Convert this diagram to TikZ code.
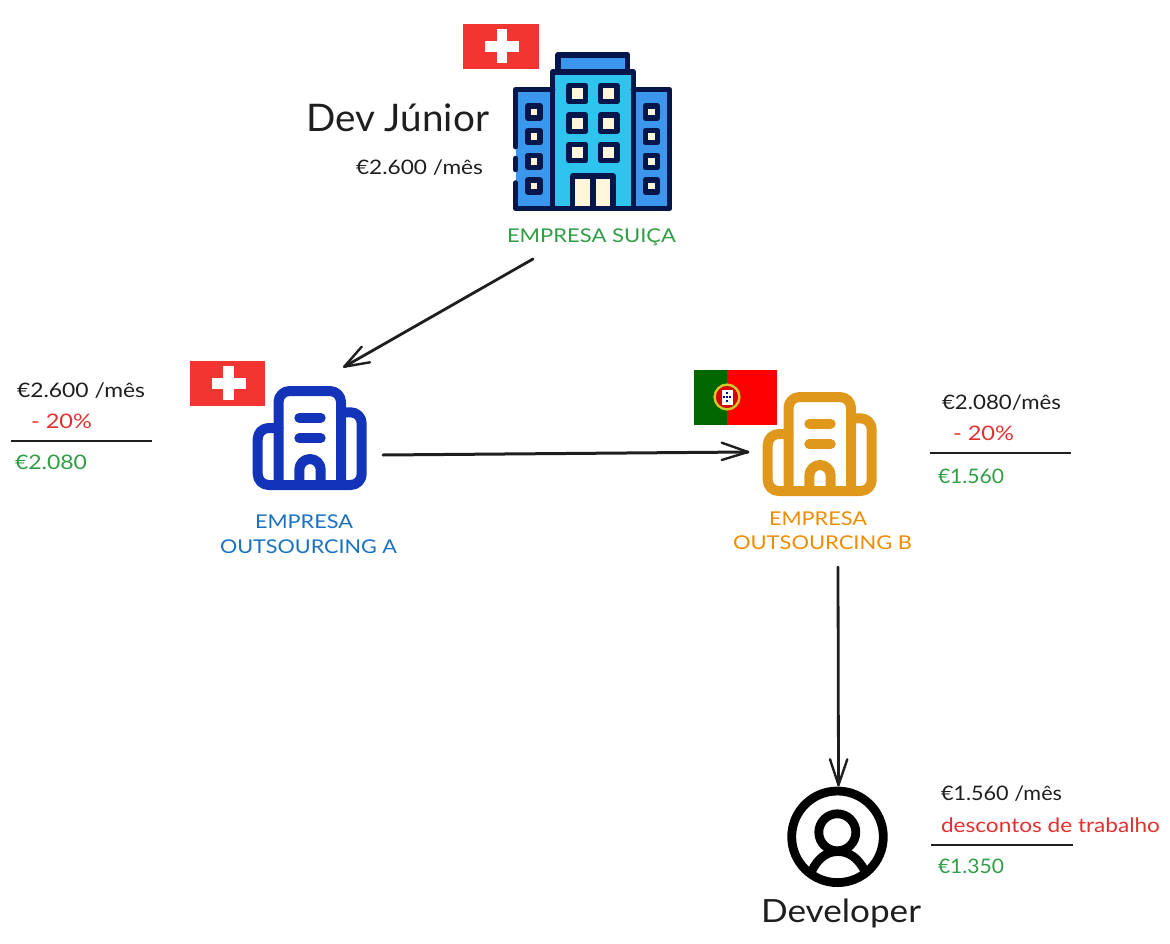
\documentclass[tikz,border=0pt]{standalone}
\usepackage{fontspec}
\usepackage{graphicx}
\setmainfont{Lato}
\definecolor{inkc}{HTML}{1E1E1E}
\definecolor{greenc}{HTML}{2F9E44}
\definecolor{redc}{HTML}{E03131}
\definecolor{bluec}{HTML}{1971C2}
\definecolor{orangec}{HTML}{F08C00}
\definecolor{navyc}{HTML}{04164A}
\definecolor{wingc}{HTML}{3A97EB}
\definecolor{towerc}{HTML}{2EC4EE}
\definecolor{creamc}{HTML}{FDF5DC}
\definecolor{swissc}{HTML}{F33532}
\definecolor{officea}{HTML}{1334B8}
\definecolor{officeb}{HTML}{E0981C}
\newcommand{\tw}[2]{\resizebox{#1pt}{\height}{#2}}
\newcommand{\swissflag}[2]{%
  \fill[swissc] (#1-37.7,#2-22.6) rectangle (#1+37.7,#2+22.6);
  \fill[white] (#1-16,#2-5.4) rectangle (#1+18,#2+5.4);
  \fill[white] (#1-4.4,#2-17) rectangle (#1+6.4,#2+17);}
\newcommand{\officeicon}[3]{%
  \begin{scope}[shift={(#1,#2)},draw=#3,line width=10pt,line cap=round,line join=round]
    \draw[rounded corners=11pt] (278.5,485) -- (278.5,391) -- (341,391) -- (341,485);
    \draw[rounded corners=11pt] (278.5,428) -- (257.7,428) -- (257.7,485) -- (361.7,485) -- (361.7,412.3) -- (341,412.3);
    \draw (299.3,417.7) -- (320.7,417.7);
    \draw (299.3,438.3) -- (320.7,438.3);
    \draw (299.3,485) -- (299.3,469.7) arc[start angle=180,end angle=0,x radius=10.7,y radius=-10.7] -- (320.7,485);
  \end{scope}}
\newcommand{\bigwin}[2]{\draw[navyc,line width=5.5pt,fill=creamc,line join=round] (#1-8.1,#2-8.1) rectangle (#1+8.1,#2+8.1);}
\newcommand{\smallwin}[2]{\draw[navyc,line width=5.5pt,fill=creamc,line join=round] (#1-6,#2-6) rectangle (#1+6,#2+6);}
\tikzset{
  lbl/.style={inner sep=0pt,outer sep=0pt,anchor=base west,font=\fontsize{20}{24}\selectfont},
  caps/.style={lbl,font=\fontsize{19}{23}\selectfont},
  arrowline/.style={draw=inkc,line width=2.8pt,line cap=round,line join=round},
  barb/.style={draw=inkc,line width=2.4pt,line cap=round,line join=round},
  rulel/.style={draw=inkc,line width=1.5pt},
}
\begin{document}
\begin{tikzpicture}[x=1pt,y=-1pt]
\useasboundingbox (0,0) rectangle (1170,944);
% flags
\swissflag{501}{46.5}
\swissflag{227.7}{383.3}
\fill[green!40!black] (694,370) rectangle (727,424.7);
\fill[red] (727,370) rectangle (777.3,424.7);
\fill[red!85!black] (727,397) circle[radius=12];
\draw[yellow!80!black,line width=2.4pt] (727,397) circle[radius=12.4];
\fill[white] (721.5,389.5) rectangle (732.5,404.5);
\foreach \qx/\qy in {727/393,727/397,727/401,724.2/397,729.8/397}{\fill[blue!65!black] (\qx-1,\qy-1) rectangle (\qx+1,\qy+1);}
% Swiss building
\begin{scope}[line join=round,line cap=round]
  \draw[navyc,line width=5.5pt,fill=wingc] (558,54.8) rectangle (627.5,72);
  \fill[wingc] (515.7,89.7) rectangle (552.7,208.3);
  \fill[wingc] (633.3,89.7) rectangle (669.5,208.3);
  \draw[navyc,line width=5.5pt,fill=towerc] (552.7,72) rectangle (633.3,208.3);
  \draw[navyc,line width=5.5pt] (515.7,146.7) -- (515.7,89.7) -- (552.7,89.7);
  \draw[navyc,line width=5.5pt] (515.7,158.5) -- (515.7,169.5);
  \draw[navyc,line width=5.5pt] (515.7,183) -- (515.7,208.3) -- (669.5,208.3) -- (669.5,89.7) -- (633.3,89.7);
  \foreach \wx in {577.2,608.8}{\foreach \wy in {93.5,123.2,152.5}{\bigwin{\wx}{\wy}}}
  \foreach \wx in {534,651.3}{\foreach \wy in {112,136.7,161.3,186}{\smallwin{\wx}{\wy}}}
  \draw[navyc,line width=5.5pt,fill=creamc] (572.7,208.3) -- (572.7,176.2) -- (613,176.2) -- (613,208.3) -- cycle;
  \draw[navyc,line width=5.5pt] (593,176.2) -- (593,208.3);
\end{scope}
% office icons
\officeicon{0}{0}{officea}
\officeicon{510}{6}{officeb}
% person icon
\begin{scope}[draw=black,line width=8.8pt]
  \draw (837.5,836.8) circle[radius=45.8];
  \draw (837.3,832.3) circle[radius=18.5];
  \draw (811.7,871) .. controls (818,858) and (827,851.5) .. (838,851.5) .. controls (849,851.5) and (858,858) .. (865,871);
\end{scope}
% labels
\node[lbl,font=\fontsize{38}{44}\selectfont,text=inkc] (title) at (306,132) {\tw{183}{Dev Júnior}};
\node[lbl,text=inkc] (salary) at (356,175) {\tw{127}{€2.600 /mês}};
\node[caps,text=greenc] (suica) at (507,243) {\tw{169}{EMPRESA SUIÇA}};
\node[lbl,text=inkc] (asalary) at (17,397) {\tw{128}{€2.600 /mês}};
\node[lbl,text=redc] (acut) at (31,428) {\tw{61}{- 20\%}};
\node[lbl,text=greenc] (anet) at (15,469) {\tw{72}{€2.080}};
\node[caps,text=bluec] (aname) at (255,528.3) {\tw{98}{EMPRESA}};
\node[caps,text=bluec] (aname2) at (220,553.3) {\tw{177}{OUTSOURCING A}};
\node[caps,text=orangec] (bname) at (769,525) {\tw{98}{EMPRESA}};
\node[caps,text=orangec] (bname2) at (733,549.5) {\tw{179}{OUTSOURCING B}};
\node[lbl,text=inkc] (bsalary) at (942,409.5) {\tw{119}{€2.080/mês}};
\node[lbl,text=redc] (bcut) at (953,440) {\tw{61}{- 20\%}};
\node[lbl,text=greenc] (bnet) at (938,483) {\tw{66}{€1.560}};
\node[lbl,text=inkc] (dsalary) at (941,800) {\tw{121}{€1.560 /mês}};
\node[lbl,text=redc] (dcut) at (941,832.7) {\tw{219}{descontos de trabalho}};
\node[lbl,text=greenc] (dnet) at (938,873.3) {\tw{66}{€1.350}};
\node[lbl,font=\fontsize{32}{38}\selectfont,text=inkc] (dev) at (761,922.5) {\tw{160}{Developer}};
% rules
\coordinate (ra1) at (11,441); \coordinate (ra2) at (152,441);
\coordinate (rb1) at (930,453); \coordinate (rb2) at (1071,453);
\coordinate (rc1) at (931,845); \coordinate (rc2) at (1073,845);
\draw[rulel] (ra1) -- (ra2);
\draw[rulel] (rb1) -- (rb2);
\draw[rulel] (rc1) -- (rc2);
% connectors
\coordinate (p1s) at (533,259); \coordinate (p1e) at (344.3,366.7);
\coordinate (p1a) at (361.7,346.7); \coordinate (p1b) at (370,362.3);
\draw[arrowline] (p1s) -- (p1e);
\draw[barb] (p1a) -- (p1e) -- (p1b);
\coordinate (p2s) at (383,455); \coordinate (p2e) at (748,452);
\coordinate (p2a) at (721.7,442.7); \coordinate (p2b) at (721.7,460);
\draw[arrowline,line width=3pt] (p2s) -- (p2e);
\draw[barb] (p2a) -- (p2e) -- (p2b);
\coordinate (p3s) at (838,567); \coordinate (p3e) at (838.5,785);
\coordinate (p3a) at (830,759.3); \coordinate (p3b) at (847.3,759.3);
\draw[arrowline] (p3s) -- (p3e);
\draw[barb] (p3a) -- (p3e) -- (p3b);
\end{tikzpicture}
\end{document}
